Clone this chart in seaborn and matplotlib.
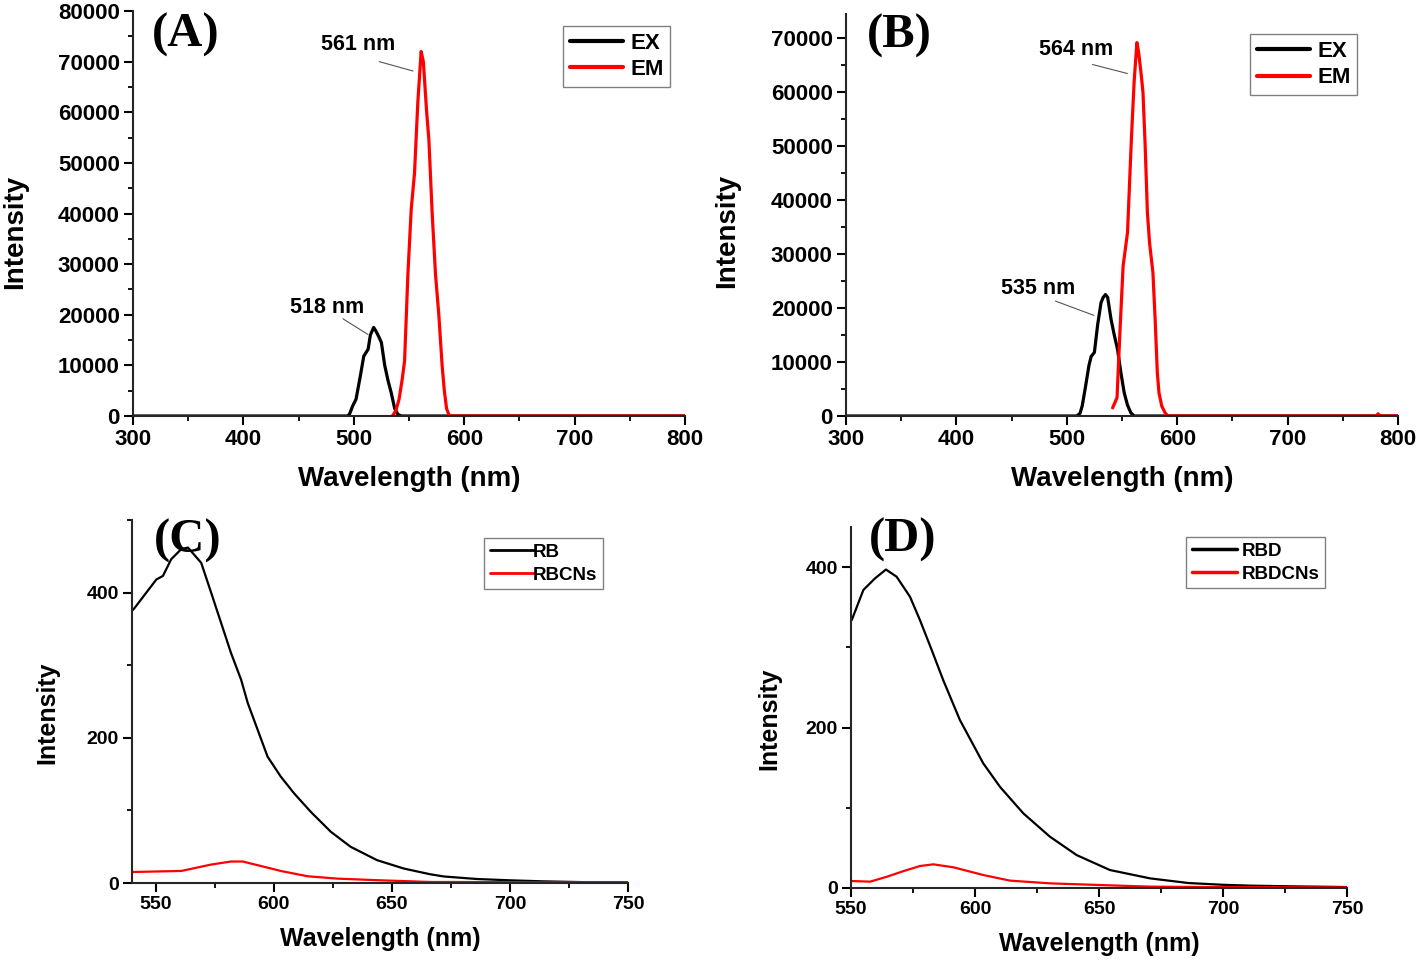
import numpy as np
import pandas as pd
import matplotlib
matplotlib.use("Agg")
import matplotlib.pyplot as plt
from matplotlib.ticker import MultipleLocator, FormatStrFormatter
import seaborn as sns

# ---------------- data ----------------
# Panel A
a_ex_x = [300, 400, 494, 496, 499, 502, 506, 509, 511, 513, 515, 518, 520, 523, 525,
          528, 531, 534, 537, 540, 543, 550, 600, 700, 800]
a_ex_y = [0, 0, 0, 300, 2000, 3300, 8000, 11800, 12500, 13200, 16000, 17500, 16800, 15500,
          14500, 10000, 7000, 4500, 1500, 300, 0, 0, 0, 0, 0]
a_em_x = [535, 538, 541, 544, 546, 549, 552, 555, 558, 561, 563, 566, 568, 571, 574, 577,
          580, 582, 584, 586, 588, 600, 700, 800]
a_em_y = [0, 1000, 3300, 7500, 10900, 28000, 40800, 48000, 62000, 72000, 70000, 60000, 54600,
          40000, 28000, 20000, 10000, 5000, 1500, 300, 0, 0, 0, 0]

# Panel B
b_ex_x = [300, 400, 509, 512, 514, 517, 520, 522, 525, 528, 531, 533, 535, 537, 540, 543,
          546, 549, 552, 555, 558, 561, 600, 700, 800]
b_ex_y = [0, 0, 0, 500, 1900, 5500, 9300, 11000, 11800, 17000, 21000, 22000, 22500, 22000,
          18000, 15000, 12300, 8000, 4300, 2000, 600, 0, 0, 0, 0]
b_em_x = [541.5, 545.5, 548, 551, 555, 558.5, 561, 563.5, 565, 567, 569, 571, 573, 575, 578,
          580, 582, 583.5, 586, 589, 591.5, 650, 700, 780, 782, 784, 800]
b_em_y = [1500, 3400, 15000, 27800, 34000, 51300, 62000, 69200, 67500, 64000, 60000, 50000,
          37700, 32000, 26600, 18000, 8000, 4300, 1850, 600, 0, 0, 0, 0, 400, 0, 0]

# Panel C
c_rb_x = [540, 540.9, 545.5, 550.3, 553.1, 556.6, 560.9, 563.7, 569.3, 573.5, 577.7, 581.9,
          586.2, 589, 593.2, 597.4, 603, 608.6, 615.7, 624.2, 632.6, 643.8, 655.1, 666.3,
          672, 686, 700, 714, 734, 750]
c_rb_y = [375, 378, 397.6, 418, 423, 446, 460, 462, 441, 400, 358.5, 317, 280, 248, 211, 174,
          146.5, 123.6, 98, 70.5, 49.8, 31.4, 19.9, 12, 9, 5.5, 3.7, 2.3, 1, 1]
c_cn_x = [540, 540.9, 560.9, 573.5, 581.9, 586.9, 593.2, 603, 614.3, 627, 645.3, 666.3, 676,
          695, 714, 750]
c_cn_y = [15.2, 15.2, 16.6, 25.4, 29.6, 29.6, 24.5, 16.6, 9.3, 6, 3.7, 1.4, 1.4, 1.2, 1, 1]

# Panel D
d_rb_x = [550.3, 555, 559.7, 564.1, 568.4, 573.8, 577.8, 582.5, 587.2, 593.9, 603.3, 610.1,
          619.5, 630.2, 641, 654.4, 670.6, 686, 700, 711.4, 729.6, 750]
d_rb_y = [334, 371.6, 386, 397, 388, 363, 334, 297, 259, 209.5, 155.5, 126, 93, 64, 41, 22.4,
          12, 6.2, 4, 2.9, 2, 1.2]
d_cn_x = [550.3, 557.7, 564.4, 571.1, 577.8, 583.2, 591.3, 603.3, 614.1, 630.2, 650.4, 670.6,
          693.2, 750]
d_cn_y = [8.7, 7.9, 14, 21, 27.4, 29.5, 25.8, 16.2, 9.2, 5.8, 3.7, 1.7, 1.2, 0.8]

# annotation texts (peak labels)
ann_a = [("561 nm", (503.8, 73300), (523.0, 70000), (553.6, 68150)),
         ("518 nm", (475.7, 21530), (490.2, 19200), (512.7, 16120))]
ann_b = [("564 nm", (508.0, 67830), (523.3, 65140), (554.9, 63470)),
         ("535 nm", (474.1, 23620), (489.7, 21300), (524.5, 18650))]

# ---------------- style ----------------
sns.set_theme(style="ticks")
plt.rcParams["font.family"] = ["Liberation Sans", "DejaVu Sans"]
plt.rcParams["font.weight"] = "bold"
plt.rcParams["axes.labelweight"] = "bold"
plt.rcParams["axes.linewidth"] = 1.5
plt.rcParams["text.color"] = "black"
plt.rcParams["axes.labelcolor"] = "black"
plt.rcParams["xtick.color"] = "black"
plt.rcParams["ytick.color"] = "black"

fig = plt.figure(figsize=(14.18, 9.65), dpi=100)
W, H = 1418, 965


def rect(l, r, t, b):
    return [l / W, 1 - b / H, (r - l) / W, (b - t) / H]


axA = fig.add_axes(rect(133, 685, 11, 416))
axB = fig.add_axes(rect(846, 1398, 14, 416))
axC = fig.add_axes(rect(132, 628, 520, 883))
axD = fig.add_axes(rect(851, 1347, 527, 888))


def draw(ax, x, y, color, lw, label):
    df = pd.DataFrame({"x": x, "y": y})
    sns.lineplot(data=df, x="x", y="y", ax=ax, color=color, lw=lw, label=label,
                 estimator=None, sort=False, legend=False)


draw(axA, a_ex_x, a_ex_y, "black", 2.3, "EX")
draw(axA, a_em_x, a_em_y, "#ff0000", 2.3, "EM")
draw(axB, b_ex_x, b_ex_y, "black", 2.3, "EX")
draw(axB, b_em_x, b_em_y, "#ff0000", 2.3, "EM")
draw(axC, c_rb_x, c_rb_y, "black", 1.6, "RB")
draw(axC, c_cn_x, c_cn_y, "#ff0000", 1.6, "RBCNs")
draw(axD, d_rb_x, d_rb_y, "black", 1.6, "RBD")
draw(axD, d_cn_x, d_cn_y, "#ff0000", 1.6, "RBDCNs")


def style_axes(ax, xlim, ylim, xmaj, xmin, ymaj, ymin, tfs, lfs, ylab_xy, xlab_y):
    ax.set_xlim(*xlim)
    ax.set_ylim(*ylim)
    ax.xaxis.set_major_locator(MultipleLocator(xmaj))
    ax.xaxis.set_minor_locator(MultipleLocator(xmin))
    ax.yaxis.set_major_locator(MultipleLocator(ymaj))
    ax.yaxis.set_minor_locator(MultipleLocator(ymin))
    ax.xaxis.set_major_formatter(FormatStrFormatter("%d"))
    ax.yaxis.set_major_formatter(FormatStrFormatter("%d"))
    sns.despine(ax=ax)
    ax.tick_params(which="major", direction="out", length=6.5, width=1.5, pad=3,
                   labelsize=tfs)
    ax.tick_params(which="minor", direction="out", length=3.5, width=1.3)
    for lab in ax.get_xticklabels() + ax.get_yticklabels():
        lab.set_fontweight("bold")
    ax.set_xlabel("Wavelength (nm)", fontsize=lfs, fontweight="bold")
    ax.set_ylabel("Intensity", fontsize=lfs, fontweight="bold")
    ax.yaxis.set_label_coords(*ylab_xy)
    ax.xaxis.set_label_coords(0.5, xlab_y)
    ax.set_facecolor("white")


style_axes(axA, (300, 800), (0, 80000), 100, 50, 10000, 5000, 16, 20, (-0.19, 0.454), -0.123)
style_axes(axB, (300, 800), (0, 74500), 100, 50, 10000, 5000, 16, 20, (-0.192, 0.46), -0.124)
style_axes(axC, (540, 750), (0, 500), 50, 25, 200, 100, 14, 18, (-0.147, 0.468), -0.121)
style_axes(axD, (550, 750), (0, 450), 50, 25, 200, 100, 14, 18, (-0.141, 0.47), -0.122)


# legends
def legend(ax, anchor, fs, hl, htp, ls, lw):
    handles = ax.get_lines()
    leg = ax.legend(handles=handles, labels=[h.get_label() for h in handles],
                    loc="upper right", bbox_to_anchor=anchor,
                    frameon=True, fancybox=False, framealpha=1, edgecolor="#808080",
                    handlelength=hl, handletextpad=htp, labelspacing=ls,
                    borderpad=0.3, borderaxespad=0.0,
                    prop={"weight": "bold", "size": fs})
    leg.get_frame().set_linewidth(1.0)
    for l in leg.get_lines():
        l.set_linewidth(lw)


legend(axA, (0.973, 0.963), 16, 2.4, 0.3, 0.25, 3.0)
legend(axB, (0.926, 0.950), 16, 2.4, 0.3, 0.25, 3.0)
legend(axC, (0.950, 0.950), 13.5, 2.4, -0.1, 0.3, 2.0)
legend(axD, (0.956, 0.972), 13.5, 2.4, 0.25, 0.3, 2.5)

# panel labels
for ax, txt, pos in [(axA, "(A)", (0.096, 0.942)), (axB, "(B)", (0.096, 0.945)),
                     (axC, "(C)", (0.112, 0.943)), (axD, "(D)", (0.104, 0.963))]:
    ax.text(pos[0], pos[1], txt, transform=ax.transAxes, ha="center", va="center",
            fontsize=35, fontweight="bold", family=["Liberation Serif", "DejaVu Serif"],
            zorder=10)

# peak annotations
for ax, anns in [(axA, ann_a), (axB, ann_b)]:
    for txt, tpos, lstart, lend in anns:
        ax.text(tpos[0], tpos[1], txt, ha="center", va="center", fontsize=15.5,
                fontweight="bold")
        ax.annotate("", xy=lend, xytext=lstart,
                    arrowprops=dict(arrowstyle="-", color="#555555", lw=0.8,
                                    shrinkA=0, shrinkB=0))

fig.savefig("out.png", dpi=100, facecolor="white")
